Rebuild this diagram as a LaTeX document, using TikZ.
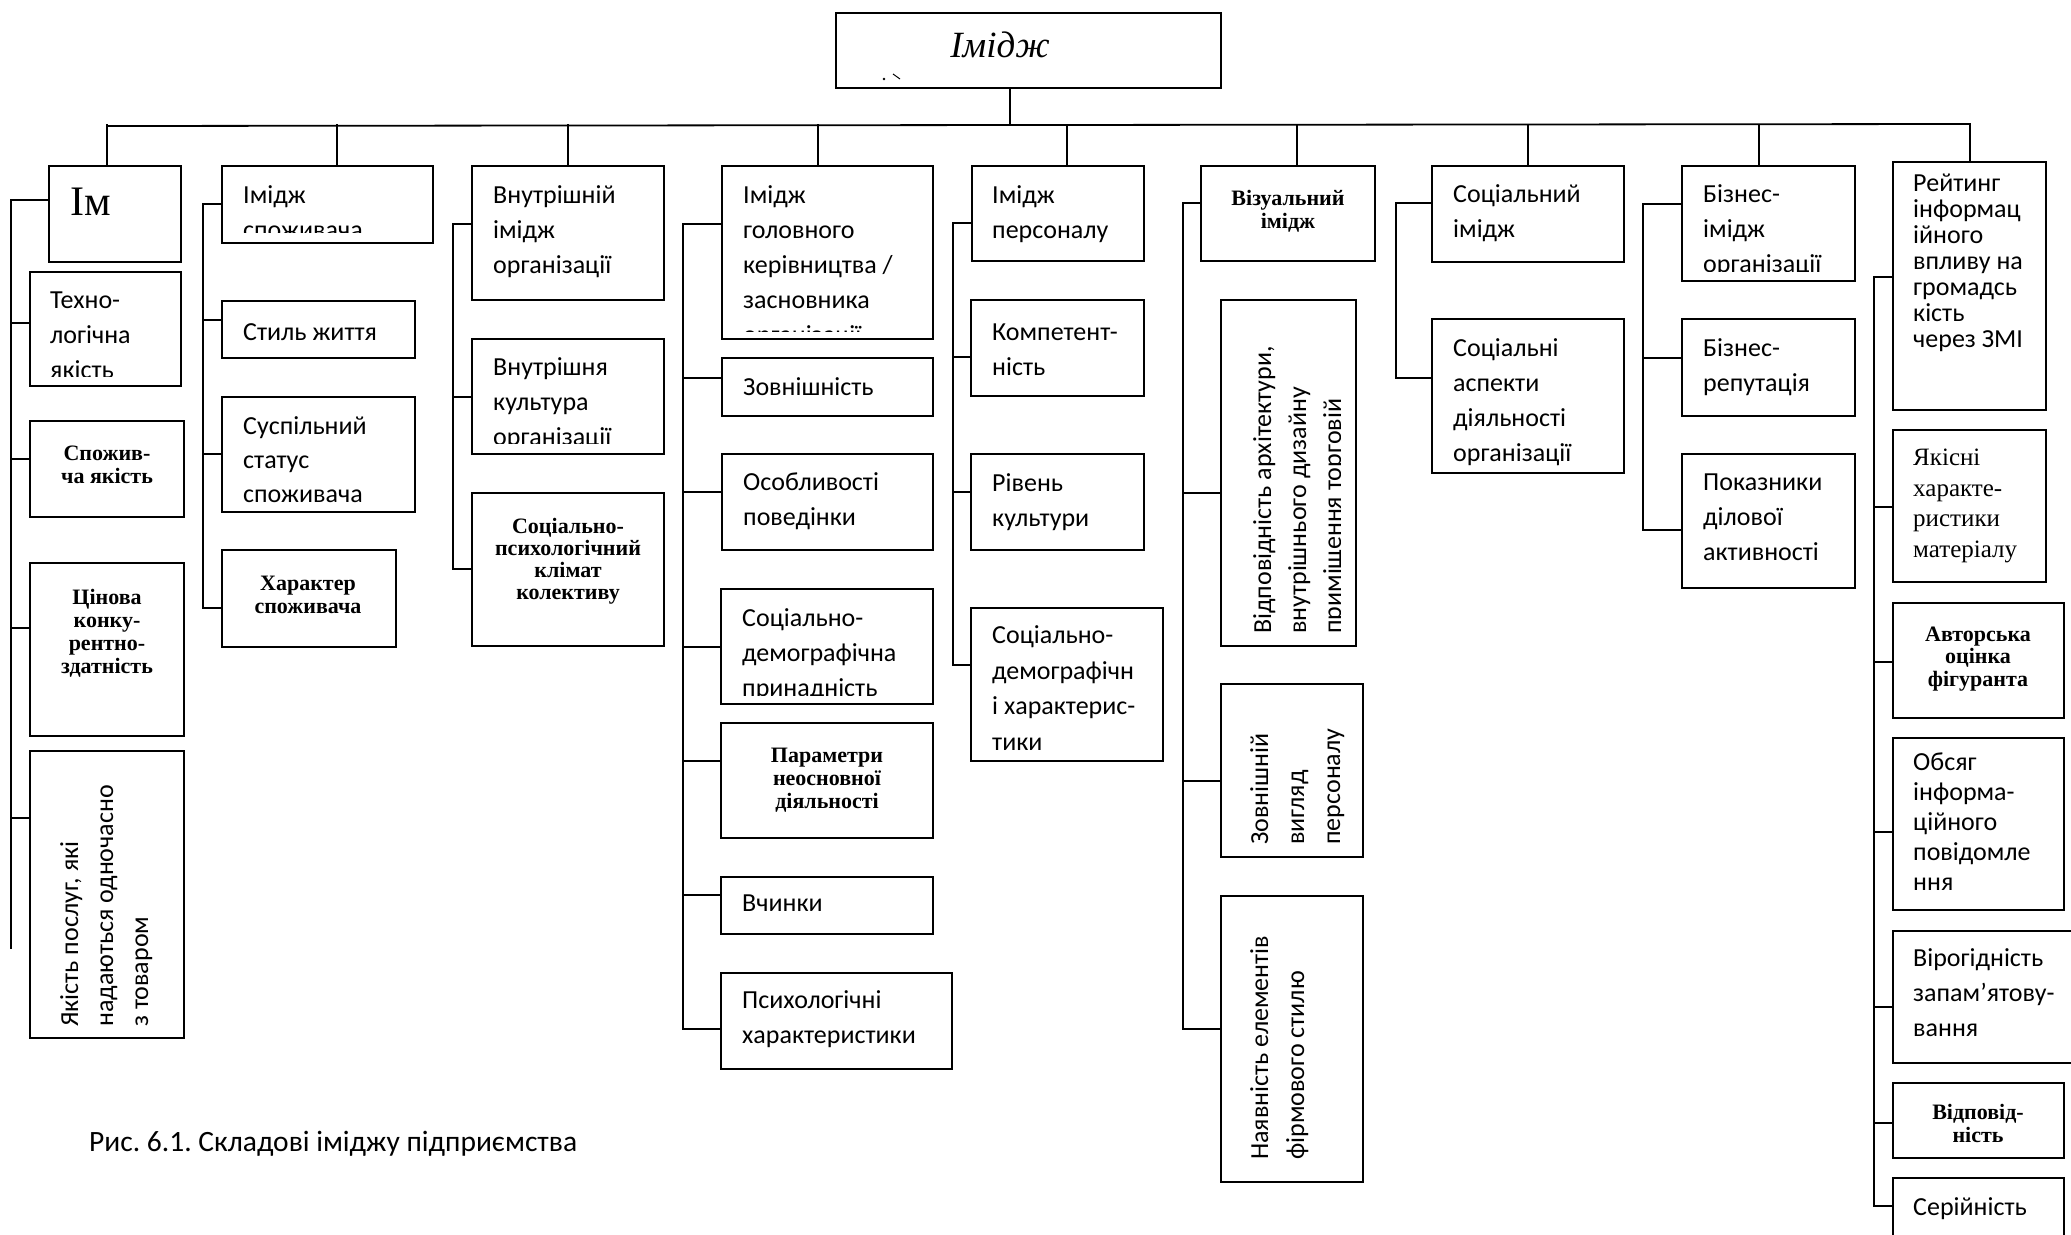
\documentclass[tikz,border=0pt]{standalone}
\usepackage{fontspec}
\setmainfont{Carlito}
\newfontfamily\calf{Carlito}
\newfontfamily\tnrf{Liberation Serif}
\frenchspacing
\newcommand\bx[5]{\pgfmathsetmacro\bw{#4-#2}\pgfmathsetmacro\bh{#5-#3}%
  \node[box, anchor=north west, minimum width=\bw pt, minimum height=\bh pt] (#1) at (#2,#3) {};}
\newcommand\br[3]{\draw[ln] (#1,#2) -- (#3.west |- #1,#2);}
\newcommand\dr[2]{\draw[ln] (#1,125) -- (#2.north -| #1,125);}
\begin{document}
\begin{tikzpicture}[x=1pt,y=-1pt,
  box/.style={draw, line width=1.8pt, inner sep=0pt, outer sep=0pt, rectangle},
  ln/.style={line width=1.8pt, line cap=rect},
  cal/.style={inner sep=0pt, align=left, anchor=base west, font=\calf\fontsize{26}{35}\selectfont},
  tb/.style={inner sep=0pt, align=center, anchor=base, font=\tnrf\bfseries\fontsize{22}{23}\selectfont},
  rot/.style={cal, rotate=90}]
\path[use as bounding box, fill=white] (0,0) rectangle (2071,1234);
\clip (0,0) rectangle (2071,1234);

% (text nodes are anchored at the baseline of their LAST line)
% top
\bx{top}{836}{13}{1221}{88}
\node[inner sep=0pt, anchor=base, font=\tnrf\itshape\fontsize{37}{40}\selectfont] (topt) at (1000,57) {Імідж};
\fill (884,79) circle (1.3);
\draw[line width=1pt] (893,74) -- (900,79);
\draw[ln] (top.south -| 1010,0) -- (1010,125);
\coordinate (busL) at (107,126);
\coordinate (busR) at (1970,124);
\draw[ln] (busL) -- (busR);

% column 1
\bx{b1}{49}{166}{181}{262}
\node[inner sep=0pt, anchor=base west, font=\tnrf\fontsize{42}{44}\selectfont] (b1t) at (70,215) {Ім};
\bx{b2}{30}{272}{181}{386}
\begin{scope}\clip (30,272) rectangle (181,376);
\node[cal] (b2t) at (50,378) {Техно-\\логічна\\якість};
\end{scope}
\bx{b3}{30}{421}{184}{517}
\node[tb] (b3t) at (107,483) {Спожив-\\ча якість};
\bx{b4}{30}{563}{184}{736}
\node[tb] (b4t) at (107,673) {Цінова\\конку-\\рентно-\\здатність};
\bx{b5}{30}{751}{184}{1038}
\node[rot] (b5t) at (148,1027) {Якість послуг, які\\надаються одночасно\\з товаром};
\draw[ln] (11,200) -- (11,948);
\br{11}{200}{b1}\br{11}{323}{b2}\br{11}{459}{b3}\br{11}{628}{b4}\br{11}{818}{b5}
\dr{107}{b1}

% column 2
\bx{b6}{222}{166}{433}{243}
\begin{scope}\clip (222,166) rectangle (433,232);
\node[cal] (b6t) at (243,238) {Імідж\\споживача};
\end{scope}
\bx{b7}{222}{301}{415}{358}
\node[cal] (b7t) at (243,340) {Стиль життя};
\bx{b8}{222}{397}{415}{512}
\node[cal, font=\calf\fontsize{26}{34}\selectfont] (b8t) at (243,502) {Суспільний\\статус\\споживача};
\bx{b9}{222}{550}{396}{647}
\node[tb] (b9t) at (308,613) {Характер\\споживача};
\draw[ln] (203,204) -- (203,608);
\br{203}{204}{b6}\br{203}{320}{b7}\br{203}{454}{b8}\br{203}{608}{b9}
\dr{337}{b6}

% column 3
\bx{b10}{472}{166}{664}{300}
\node[cal] (b10t) at (493,273) {Внутрішній\\імідж\\організації};
\bx{b11}{472}{339}{664}{454}
\begin{scope}\clip (472,339) rectangle (664,443);
\node[cal] (b11t) at (493,445) {Внутрішня\\культура\\організації};
\end{scope}
\bx{b12}{472}{493}{664}{646}
\node[tb, font=\tnrf\bfseries\fontsize{22}{22}\selectfont] (b12t) at (568,599) {Соціально-\\психологічний\\клімат\\колективу};
\draw[ln] (453,224) -- (453,569);
\br{453}{224}{b10}\br{453}{397}{b11}\br{453}{569}{b12}
\dr{568}{b10}

% column 4
\bx{b13}{722}{166}{933}{339}
\begin{scope}\clip (722,166) rectangle (933,331);
\node[cal] (b13t) at (743,343) {Імідж\\головного\\керівництва /\\засновника\\організації};
\end{scope}
\bx{b14}{722}{358}{933}{416}
\node[cal] (b14t) at (743,395) {Зовнішність};
\bx{b15}{722}{454}{933}{550}
\node[cal] (b15t) at (743,525) {Особливості\\поведінки};
\bx{b16}{721}{589}{933}{704}
\begin{scope}\clip (721,589) rectangle (933,695);
\node[cal] (b16t) at (742,696) {Соціально-\\демографічна\\принадність};
\end{scope}
\bx{b17}{721}{723}{933}{838}
\node[tb] (b17t) at (827,808) {Параметри\\неосновної\\діяльності};
\bx{b18}{721}{877}{933}{934}
\node[cal] (b18t) at (742,911) {Вчинки};
\bx{b19}{721}{973}{952}{1069}
\node[cal] (b19t) at (742,1043) {Психологічні\\характеристики};
\draw[ln] (683,224) -- (683,1029);
\br{683}{224}{b13}\br{683}{378}{b14}\br{683}{492}{b15}\br{683}{647}{b16}
\br{683}{761}{b17}\br{683}{895}{b18}\br{683}{1029}{b19}
\dr{818}{b13}

% column 5
\bx{b20}{972}{166}{1144}{261}
\node[cal] (b20t) at (992,238) {Імідж\\персоналу};
\bx{b21}{971}{300}{1144}{396}
\node[cal] (b21t) at (992,375) {Компетент-\\ність};
\bx{b22}{971}{454}{1144}{550}
\node[cal] (b22t) at (992,526) {Рівень\\культури};
\bx{b23}{971}{608}{1163}{761}
\node[cal, font=\calf\fontsize{26}{35.5}\selectfont] (b23t) at (992,750) {Соціально-\\демографічн\\і характерис-\\тики};
\draw[ln] (953,223) -- (953,665);
\br{953}{223}{b20}\br{953}{357}{b21}\br{953}{492}{b22}\br{953}{665}{b23}
\dr{1067}{b20}

% column 6
\bx{b24}{1201}{166}{1375}{261}
\node[tb] (b24t) at (1288,228) {Візуальний\\імідж};
\bx{b25}{1221}{300}{1356}{646}
\begin{scope}\clip (1221,300) rectangle (1340,646);
\node[rot] (b25t) at (1341,634) {Відповідність архітектури,\\внутрішнього дизайну\\приміщення торговій};
\end{scope}
\bx{b26}{1221}{684}{1363}{857}
\node[rot, font=\calf\fontsize{26}{36}\selectfont] (b26t) at (1340,845) {Зовнішній\\вигляд\\персоналу};
\bx{b27}{1221}{896}{1363}{1182}
\node[rot, font=\calf\fontsize{26}{36}\selectfont] (b27t) at (1304,1160) {Наявність елементів\\фірмового стилю};
\draw[ln] (1183,203) -- (1183,1029);
\br{1183}{203}{b24}\br{1183}{493}{b25}\br{1183}{781}{b26}\br{1183}{1029}{b27}
\dr{1297}{b24}

% column 7
\bx{b28}{1432}{166}{1624}{262}
\node[cal] (b28t) at (1453,237) {Соціальний\\імідж};
\bx{b29}{1432}{319}{1624}{473}
\node[cal] (b29t) at (1453,461) {Соціальні\\аспекти\\діяльності\\організації};
\draw[ln] (1396,203) -- (1396,378);
\br{1396}{203}{b28}\br{1396}{378}{b29}
\dr{1528}{b28}

% column 8
\bx{b30}{1682}{166}{1855}{281}
\begin{scope}\clip (1682,166) rectangle (1855,271);
\node[cal] (b30t) at (1703,272) {Бізнес-\\імідж\\організації};
\end{scope}
\bx{b31}{1682}{319}{1855}{416}
\node[cal] (b31t) at (1703,391) {Бізнес-\\репутація};
\bx{b32}{1682}{454}{1855}{588}
\node[cal] (b32t) at (1703,560) {Показники\\ділової\\активності};
\draw[ln] (1643,204) -- (1643,530);
\br{1643}{204}{b30}\br{1643}{358}{b31}\br{1643}{530}{b32}
\dr{1759}{b30}

% column 9
\bx{b33}{1893}{162}{2046}{410}
\node[cal, font=\calf\fontsize{26}{26}\selectfont] (b33t) at (1913,347) {Рейтинг\\інформац\\ійного\\впливу на\\громадсь\\кість\\через ЗМІ};
\bx{b34}{1893}{430}{2046}{582}
\node[cal, font=\tnrf\fontsize{25}{30.5}\selectfont] (b34t) at (1913,557) {Якісні\\характе-\\ристики\\матеріалу};
\bx{b35}{1893}{603}{2064}{718}
\node[tb, font=\tnrf\bfseries\fontsize{22}{22.5}\selectfont] (b35t) at (1978,686) {Авторська\\оцінка\\фігуранта};
\bx{b36}{1893}{738}{2064}{910}
\node[cal, font=\calf\fontsize{26}{30}\selectfont] (b36t) at (1913,890) {Обсяг\\інформа-\\ційного\\повідомле\\ння};
\bx{b37}{1893}{931}{2090}{1063}
\node[cal] (b37t) at (1913,1036) {Вірогідність\\запам’ятову-\\вання};
\bx{b38}{1893}{1083}{2064}{1158}
\node[tb] (b38t) at (1978,1142) {Відповід-\\ність};
\bx{b39}{1893}{1178}{2064}{1260}
\node[cal] (b39t) at (1913,1215) {Серійність};
\draw[ln] (1874,277) -- (1874,1206);
\br{1874}{277}{b33}\br{1874}{507}{b34}\br{1874}{662}{b35}\br{1874}{832}{b36}
\br{1874}{1007}{b37}\br{1874}{1123}{b38}\br{1874}{1206}{b39}
\draw[ln] (1970,124) -- (b33.north -| 1970,124);

% caption
\node[inner sep=0pt, anchor=base west, font=\calf\fontsize{29.5}{32}\selectfont] (cap) at (89,1151) {Рис. 6.1. Складові іміджу підприємства};
\end{tikzpicture}
\end{document}
